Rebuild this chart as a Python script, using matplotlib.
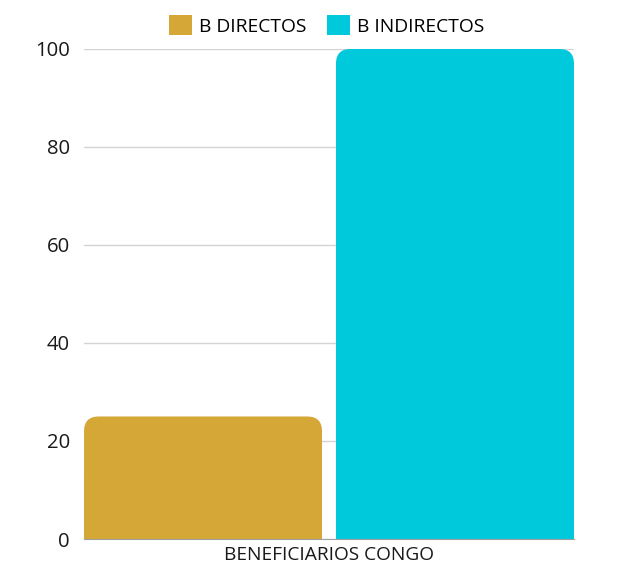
import matplotlib.pyplot as plt
from matplotlib.patches import FancyBboxPatch, Rectangle, Patch

plt.rcParams['font.family'] = ['Open Sans', 'DejaVu Sans']

series = ["B DIRECTOS", "B INDIRECTOS"]
values = [25, 100]
colors = ["#D4A736", "#00C9DC"]
category = "BENEFICIARIOS CONGO"
yticks = [0, 20, 40, 60, 80, 100]

fig = plt.figure(figsize=(6.19, 5.65), dpi=100)
ax = fig.add_axes([0.1357, 0.046, 0.7916, 0.8674])

width = 0.4857
offsets = [-0.2571, 0.2571]
bars = ax.bar(offsets, values, width=width, color=colors, zorder=2)

# rounded top corners: rounded box + square lower half
rx = 0.03
ry = 3.0
for b, c in zip(bars, colors):
    b.set_visible(False)
    x0, w, h = b.get_x(), b.get_width(), b.get_height()
    ax.add_patch(FancyBboxPatch((x0 + rx, ry), w - 2 * rx, h - 2 * ry,
                                boxstyle="round,pad=%f" % rx,
                                mutation_aspect=ry / rx,
                                facecolor=c, edgecolor="none", zorder=2))
    ax.add_patch(Rectangle((x0, 0), w, h / 2, facecolor=c,
                           edgecolor="none", zorder=2))

ax.set_xlim(-0.5, 0.5)
ax.set_ylim(0, 100)
ax.set_yticks(yticks)
ax.set_xticks([0])
ax.set_xticklabels([category], fontsize=13.8, color="#1a1a1a")
ax.tick_params(axis="y", length=0, pad=10, labelsize=14.6, labelcolor="#1a1a1a")
ax.tick_params(axis="x", length=0, pad=5)
ax.grid(axis="y", color="#d4d4d4", linewidth=1, zorder=0)
for s in ["left", "right", "top"]:
    ax.spines[s].set_visible(False)
ax.spines["bottom"].set_color("#a0a0a0")
ax.spines["bottom"].set_zorder(3)

handles = [Patch(facecolor=c, edgecolor="none") for c in colors]
fig.legend(handles, series, loc="center", bbox_to_anchor=(0.5275, 0.955),
           ncol=2, frameon=False, fontsize=13.9, handlelength=1.2,
           handleheight=1.2, handletextpad=0.35, columnspacing=1.1)

fig.savefig("out.png", dpi=100)
